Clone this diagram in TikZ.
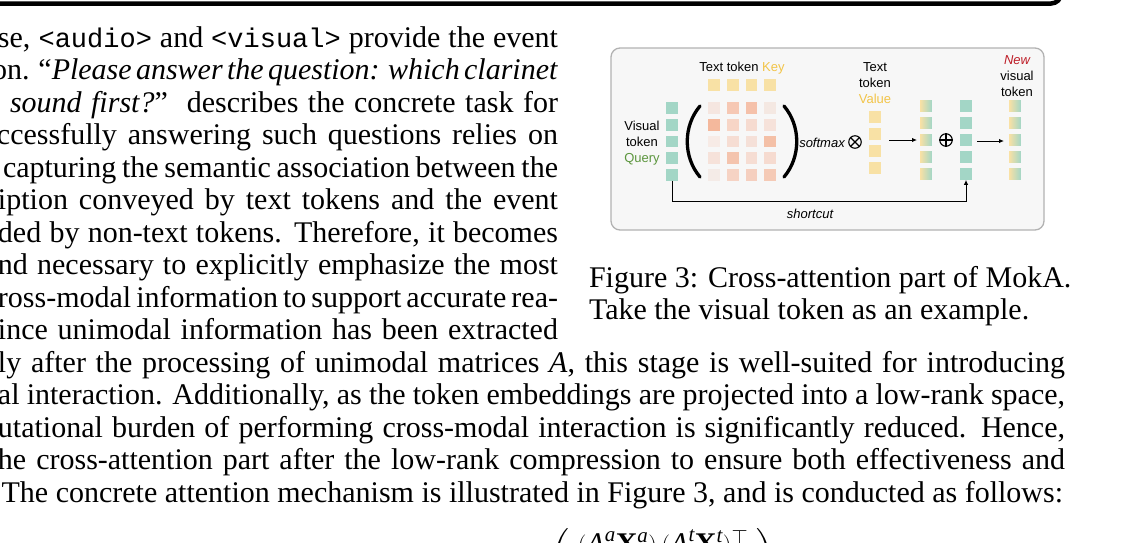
\documentclass[tikz,border=0pt]{standalone}
\usepackage{amsmath}
\usepackage{fontspec}
\setmainfont{Liberation Serif}
\setmonofont{Liberation Mono}[Scale=0.9]
\newfontfamily\figsans{Liberation Sans}
\usetikzlibrary{arrows.meta,calc}

\definecolor{tealsq}{RGB}{163,214,198}
\definecolor{yelsq}{RGB}{248,225,165}
\definecolor{keytxt}{RGB}{242,196,72}
\definecolor{qgreen}{RGB}{92,150,62}
\definecolor{newred}{RGB}{190,30,40}
\definecolor{boxfill}{RGB}{247,247,247}
\definecolor{boxline}{RGB}{178,178,178}
\definecolor{mA}{RGB}{245,230,224}
\definecolor{mB}{RGB}{246,200,180}
\definecolor{mC}{RGB}{245,193,170}
\definecolor{mD}{RGB}{244,232,226}
\definecolor{mE}{RGB}{244,184,156}
\definecolor{mF}{RGB}{247,213,198}
\definecolor{mG}{RGB}{246,219,208}
\definecolor{mH}{RGB}{246,226,218}
\definecolor{mI}{RGB}{247,235,230}
\definecolor{mJ}{RGB}{246,221,211}
\definecolor{mK}{RGB}{245,224,216}
\definecolor{mL}{RGB}{244,192,167}
\definecolor{mM}{RGB}{244,196,174}
\definecolor{mN}{RGB}{244,235,231}
\definecolor{mO}{RGB}{246,211,196}
\definecolor{mP}{RGB}{245,207,191}
\definecolor{mQ}{RGB}{245,202,182}

\tikzset{
  bodytext/.style={font=\fontsize{30}{32.5}\selectfont, inner sep=0pt, outer sep=0pt},
  figtxt/.style={font=\figsans\fontsize{13}{16}\selectfont, inner sep=0pt},
  sq/.style={minimum size=11.7pt, inner sep=0pt, outer sep=0pt, draw=none},
  tealbox/.style={sq, fill=tealsq},
  yelbox/.style={sq, fill=yelsq},
  mixbox/.style={sq, left color=yelsq, right color=tealsq},
  arr/.style={-{Latex[length=5pt,width=4.5pt]}, line width=1pt},
  opsym/.style={circle, draw, line width=1.1pt, minimum size=12.5pt, inner sep=0pt},
  paren/.style={line width=3.3pt, line cap=round},
}

% justified single line: name, left x, right x, baseline y, text
\newcommand\jline[5]{%
  \node[bodytext, anchor=base west] (#1) at (#2,#4)
    {\hbox to \dimexpr #3pt-(#2pt)\relax{\spaceskip=7.5pt plus 6pt minus 3.2pt\relax #5}};}

\begin{document}
\begin{tikzpicture}[x=1pt,y=-1pt]
\useasboundingbox (0,0) rectangle (1122,542);
\clip (0,0) rectangle (1122,542);

% top rule of the preceding box
\draw[line width=4.5pt, rounded corners=10pt] (-10,3.5) -- (1061,3.5) -- (1061,-30);

% body text, left column
\jline{l1}{-2}{558}{47}{se, \texttt{<audio>} and \texttt{<visual>} provide the event}
\jline{l2}{-8}{558}{79.5}{on. “\textit{Please answer the question: which clarinet}}
\jline{l3}{10}{558}{112}{\textit{sound first?}”\ \ describes the concrete task for}
\jline{l4}{-3}{558}{144.5}{ccessfully answering such questions relies on}
\jline{l5}{3}{558}{177}{capturing the semantic association between the}
\jline{l6}{-2}{558}{209.5}{iption conveyed by text tokens and the event}
\jline{l7}{-2}{558}{242}{ded by non-text tokens. Therefore, it becomes}
\jline{l8}{-2}{558}{274.5}{nd necessary to explicitly emphasize the most}
\jline{l9}{-2}{558}{307}{ross-modal information to support accurate rea-}
\jline{l10}{-2}{558}{339.5}{ince unimodal information has been extracted}
% full width lines
\jline{l11}{-2}{1065}{372}{ly after the processing of unimodal matrices \textit{A}, this stage is well-suited for introducing}
\jline{l12}{-2}{1065}{404.5}{al interaction. Additionally, as the token embeddings are projected into a low-rank space,}
\jline{l13}{-2}{1065}{437}{utational burden of performing cross-modal interaction is significantly reduced. Hence,}
\jline{l14}{-2}{1065}{469.5}{he cross-attention part after the low-rank compression to ensure both effectiveness and}
\node[bodytext, anchor=base east] (l15) at (1063,502) {The concrete attention mechanism is illustrated in Figure 3, and is conducted as follows:};

% formula (top part only visible)
\node[inner sep=0pt, anchor=north] (eq) at (663,528) {\fontsize{30}{32}\selectfont
  $\displaystyle\left(\;\genfrac{}{}{0pt}{}{(\textit{A}^{\textit{a}}\textbf{X}^{\textit{a}})\,(\textit{A}^{\textit{t}}\textbf{X}^{\textit{t}})^{\top}}{\vphantom{\sqrt{d}}}\;\right)$};

% caption
\node[bodytext, anchor=base west] (cap1) at (589,287) {Figure 3: Cross-attention part of MokA.};
\node[bodytext, anchor=base west] (cap2) at (589,319) {Take the visual token as an example.};

% figure frame
\draw[rounded corners=9pt, fill=boxfill, draw=boxline, line width=1.3pt] (611,48) rectangle (1044,230);

% labels
\node[figtxt] (keylbl) at (742,68) {Text token \textcolor{keytxt}{Key}};
\node[figtxt, align=center] (vallbl) at (875,83) {Text\\token\\\textcolor{keytxt}{Value}};
\node[figtxt, align=center] (newlbl) at (1017,76) {\textcolor{newred}{\itshape New}\\visual\\token};
\node[figtxt, align=center] (qlbl) at (642,143) {Visual\\token\\\textcolor{qgreen}{Query}};
\node[figtxt] (smx) at (822,143) {\itshape softmax};
\node[figtxt] (sc) at (810,214) {\itshape shortcut};

% query column
\foreach \i in {1,...,5} {
  \node[tealbox] (q\i) at (672,{108+16.75*(\i-1)}) {};
}
% key row
\foreach \j in {1,...,4} {
  \node[yelbox] (k\j) at ({714+18.7*(\j-1)},85) {};
}
% attention matrix
\foreach \c [count=\n from 0] in {mA,mB,mC,mD,mE,mF,mG,mH,mI,mJ,mK,mL,mH,mM,mJ,mG,mN,mO,mP,mQ} {
  \pgfmathtruncatemacro\r{int(\n/4)}
  \pgfmathtruncatemacro\cc{mod(\n,4)}
  \node[sq, fill=\c] (m\r\cc) at ({714+18.7*\cc},{108+16.75*\r}) {};
}
% parentheses
\draw[paren] (700,106) .. controls (683,126) and (683,157) .. (700,177);
\draw[paren] (784,106) .. controls (801,126) and (801,157) .. (784,177);

% otimes
\node[opsym] (ot) at (855,142) {};
\draw[line width=1.1pt] (ot.45) -- (ot.225) (ot.135) -- (ot.315);

% value column
\foreach \i in {1,...,4} {
  \node[yelbox] (v\i) at (875,{117+17*(\i-1)}) {};
}
\coordinate (a1s) at (889,140);
\coordinate (a1e) at (917,140);
\draw[arr] (a1s) -- (a1e);

% attended output column
\foreach \i in {1,...,5} {
  \node[mixbox] (g\i) at (926,{106+17*(\i-1)}) {};
}
% oplus
\node[opsym] (op) at (946,140) {};
\draw[line width=1.1pt] (op.north) -- (op.south) (op.west) -- (op.east);

% visual token again
\foreach \i in {1,...,5} {
  \node[tealbox] (t\i) at (966,{106+17*(\i-1)}) {};
}
\coordinate (a2s) at (977,141);
\coordinate (a2e) at (1004,141);
\draw[arr] (a2s) -- (a2e);

% new visual token
\foreach \i in {1,...,5} {
  \node[mixbox] (n\i) at (1015,{106+17*(\i-1)}) {};
}

% shortcut
\draw[arr] (q5.south) -- ++(0,21) -| (t5.south);
\end{tikzpicture}
\end{document}
